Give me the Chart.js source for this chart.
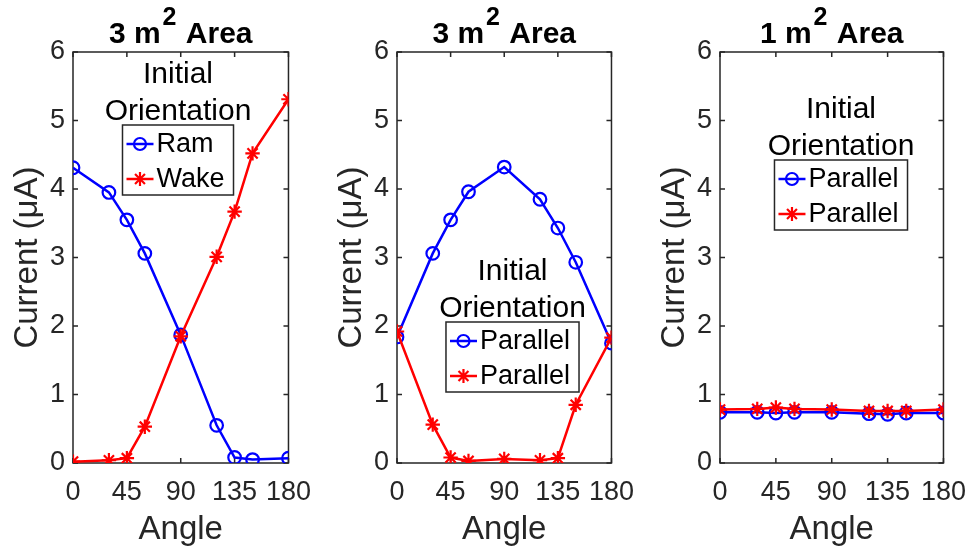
<!DOCTYPE html>
<html>
<head>
<meta charset="utf-8">
<script src="https://cdn.jsdelivr.net/npm/chart.js@4.4.1/dist/chart.umd.min.js"></script>
<style>
  html, body { margin: 0; padding: 0; background: #ffffff; }
  #wrap { position: relative; width: 979px; height: 550px; overflow: hidden; background: #ffffff; }
  #wrap canvas { position: absolute; top: 0; }
</style>
</head>
<body>
<div id="wrap">
  <canvas id="panelA" width="324" height="550" style="left:0px"></canvas>
  <canvas id="panelB" width="323" height="550" style="left:324px"></canvas>
  <canvas id="panelC" width="332" height="550" style="left:647px"></canvas>
</div>
<script>
// Rotation angle of the probe (degrees)
const angles = [0, 30, 45, 60, 90, 120, 135, 150, 180];
const angleTicks = [0, 45, 90, 135, 180];
const currentTicks = [0, 1, 2, 3, 4, 5, 6];

// Collected current (µA), 3 m² area, ram vs wake start
const ram3m = [4.31, 3.95, 3.55, 3.06, 1.87, 0.55, 0.08, 0.05, 0.07];
const wake3m = [0.02, 0.04, 0.07, 0.53, 1.85, 3.01, 3.67, 4.52, 5.31];

// 3 m² area, both runs starting parallel
const parallelA3m = [1.84, 3.06, 3.55, 3.96, 4.32, 3.85, 3.43, 2.93, 1.75];
const parallelB3m = [1.92, 0.56, 0.08, 0.03, 0.06, 0.04, 0.07, 0.85, 1.83];

// 1 m² area, both runs starting parallel
const parallelA1m = [0.74, 0.74, 0.73, 0.74, 0.74, 0.72, 0.71, 0.73, 0.73];
const parallelB1m = [0.78, 0.79, 0.81, 0.79, 0.78, 0.76, 0.76, 0.76, 0.78];

const FONT = '"Liberation Sans", Arial, Helvetica, sans-serif';
const AXIS_COLOR = '#262626';
const BLUE = '#0000ff';
const RED = '#ff0000';
const LINE_W = 2.5;

// Box around the axes with inward tick marks on all four sides
const framePlugin = {
  id: 'frame',
  beforeDatasetsDraw(chart) {
    const { ctx, chartArea: a, scales } = chart;
    ctx.save();
    ctx.strokeStyle = AXIS_COLOR;
    ctx.lineWidth = 1.5;
    ctx.strokeRect(a.left, a.top, a.right - a.left, a.bottom - a.top);
    const len = 5;
    ctx.beginPath();
    scales.x.ticks.forEach(t => {
      const px = scales.x.getPixelForValue(t.value);
      ctx.moveTo(px, a.bottom); ctx.lineTo(px, a.bottom - len);
      ctx.moveTo(px, a.top); ctx.lineTo(px, a.top + len);
    });
    scales.y.ticks.forEach(t => {
      const py = scales.y.getPixelForValue(t.value);
      ctx.moveTo(a.left, py); ctx.lineTo(a.left + len, py);
      ctx.moveTo(a.right, py); ctx.lineTo(a.right - len, py);
    });
    ctx.stroke();
    ctx.restore();
  }
};

function drawMarker(ctx, style, x, y, r, color) {
  ctx.save();
  ctx.strokeStyle = color;
  ctx.lineWidth = 2.2;
  ctx.beginPath();
  if (style === 'circle') {
    ctx.arc(x, y, r, 0, Math.PI * 2);
  } else {
    for (let k = 0; k < 4; k++) {
      const ang = k * Math.PI / 4;
      ctx.moveTo(x - r * Math.cos(ang), y - r * Math.sin(ang));
      ctx.lineTo(x + r * Math.cos(ang), y + r * Math.sin(ang));
    }
  }
  ctx.stroke();
  ctx.restore();
}

// Boxed legend with a two-line heading above it
const boxLegendPlugin = {
  id: 'boxLegend',
  afterDatasetsDraw(chart, args, opts) {
    const { ctx, chartArea: a } = chart;
    const cx = a.left + opts.cx;
    const boxTop = a.top + opts.boxTop;
    ctx.save();
    // heading
    ctx.fillStyle = '#000000';
    ctx.textAlign = 'center';
    ctx.textBaseline = 'alphabetic';
    ctx.font = '30px ' + FONT;
    const lines = opts.heading;
    lines.forEach((ln, i) => {
      ctx.fillText(ln, cx, boxTop - 5 - 37 * (lines.length - 1 - i));
    });
    // entries
    ctx.font = '27px ' + FONT;
    const items = chart.data.datasets.map(d => ({ label: d.label, color: d.borderColor, style: d.pointStyle, r: d.pointRadius }));
    const textW = Math.max(...items.map(it => ctx.measureText(it.label).width));
    const textOff = 34;
    const boxW = textOff + textW + 9;
    const boxH = 70;
    const left = cx - boxW / 2;
    ctx.fillStyle = '#ffffff';
    ctx.fillRect(left, boxTop, boxW, boxH);
    ctx.strokeStyle = AXIS_COLOR;
    ctx.lineWidth = 1.5;
    ctx.strokeRect(left, boxTop, boxW, boxH);
    items.forEach((it, i) => {
      const y = boxTop + 19 + 35 * i;
      ctx.strokeStyle = it.color;
      ctx.lineWidth = LINE_W;
      ctx.beginPath();
      ctx.moveTo(left + 4, y);
      ctx.lineTo(left + 31, y);
      ctx.stroke();
      drawMarker(ctx, it.style, left + 17.5, y, it.style === 'circle' ? 6 : 7, it.color);
      ctx.fillStyle = '#000000';
      ctx.textAlign = 'left';
      ctx.textBaseline = 'middle';
      ctx.fillText(it.label, left + textOff, y + 1);
    });
    ctx.restore();
  }
};

// Bold panel heading with a raised exponent
const headingPlugin = {
  id: 'heading',
  afterDraw(chart, args, opts) {
    const { ctx, chartArea: a } = chart;
    ctx.save();
    ctx.fillStyle = '#000000';
    ctx.textBaseline = 'alphabetic';
    ctx.textAlign = 'left';
    const big = 'bold 30px ' + FONT;
    const small = 'bold 25px ' + FONT;
    ctx.font = big;
    const w1 = ctx.measureText(opts.base).width;
    const w3 = ctx.measureText(opts.rest).width;
    ctx.font = small;
    const w2 = ctx.measureText(opts.sup).width;
    const gapSup = 2, gapRest = 1;
    const total = w1 + gapSup + w2 + gapRest + w3;
    let x = (a.left + a.right) / 2 - total / 2;
    const baseY = 43;
    ctx.font = big;
    ctx.fillText(opts.base, x, baseY);
    x += w1 + gapSup;
    ctx.font = small;
    ctx.fillText(opts.sup, x, baseY - 18);
    x += w2 + gapRest;
    ctx.font = big;
    ctx.fillText(opts.rest, x, baseY);
    ctx.restore();
  }
};

function makePanel(id, blueVals, redVals, labels, heading, legendPos) {
  const canvas = document.getElementById(id);
  const plotWidth = 228;
  const axisWidth = 73;
  const rightPad = canvas.width - axisWidth - plotWidth;
  const series = vals => angles.map((a, i) => ({ x: a, y: vals[i] }));
  return new Chart(canvas, {
    type: 'line',
    data: {
      datasets: [
        {
          label: labels[0], data: series(blueVals),
          borderColor: BLUE, backgroundColor: BLUE, borderWidth: LINE_W,
          pointStyle: 'circle', pointRadius: 6.3, pointBorderWidth: 2.2,
          pointBackgroundColor: 'rgba(0,0,0,0)', pointBorderColor: BLUE,
          pointHoverRadius: 6.3, tension: 0, order: 1
        },
        {
          label: labels[1], data: series(redVals),
          borderColor: RED, backgroundColor: RED, borderWidth: LINE_W,
          pointStyle: 'star', pointRadius: 7.2, pointBorderWidth: 2.2,
          pointBackgroundColor: RED, pointBorderColor: RED,
          pointHoverRadius: 7.2, tension: 0, order: 0
        }
      ]
    },
    options: {
      responsive: false,
      animation: false,
      devicePixelRatio: 1,
      events: [],
      layout: { padding: { top: 52, right: rightPad, left: 0, bottom: 0 } },
      scales: {
        x: {
          type: 'linear', min: 0, max: 180,
          afterBuildTicks: s => { s.ticks = angleTicks.map(v => ({ value: v })); },
          afterFit: s => { s.height = 87; },
          grid: { display: false, drawTicks: false },
          border: { display: false },
          ticks: {
            autoSkip: false, maxRotation: 0, minRotation: 0, padding: 13,
            color: AXIS_COLOR, font: { family: FONT, size: 27 }
          },
          title: {
            display: true, text: 'Angle', color: AXIS_COLOR,
            font: { family: FONT, size: 33, lineHeight: 1.2 },
            padding: { top: 0, bottom: 0 }
          }
        },
        y: {
          type: 'linear', min: 0, max: 6,
          afterBuildTicks: s => { s.ticks = currentTicks.map(v => ({ value: v })); },
          afterFit: s => { s.width = axisWidth; },
          grid: { display: false, drawTicks: false },
          border: { display: false },
          ticks: {
            padding: 8, color: AXIS_COLOR, font: { family: FONT, size: 27 }
          },
          title: {
            display: true, text: 'Current (μA)', color: AXIS_COLOR,
            font: { family: FONT, size: 33, lineHeight: 1.2 },
            padding: { top: 8, bottom: 0 }
          }
        }
      },
      plugins: {
        legend: { display: false },
        tooltip: { enabled: false },
        title: { display: false },
        heading: heading,
        boxLegend: legendPos
      }
    },
    plugins: [framePlugin, boxLegendPlugin, headingPlugin]
  });
}

const orientationHeading = ['Initial', 'Orientation'];

makePanel('panelA', ram3m, wake3m, ['Ram', 'Wake'],
  { base: '3 m', sup: '2', rest: ' Area' },
  { cx: 105, boxTop: 73, heading: orientationHeading });

makePanel('panelB', parallelA3m, parallelB3m, ['Parallel', 'Parallel'],
  { base: '3 m', sup: '2', rest: ' Area' },
  { cx: 115.5, boxTop: 270, heading: orientationHeading });

makePanel('panelC', parallelA1m, parallelB1m, ['Parallel', 'Parallel'],
  { base: '1 m', sup: '2', rest: ' Area' },
  { cx: 121, boxTop: 108, heading: orientationHeading });
</script>
</body>
</html>
